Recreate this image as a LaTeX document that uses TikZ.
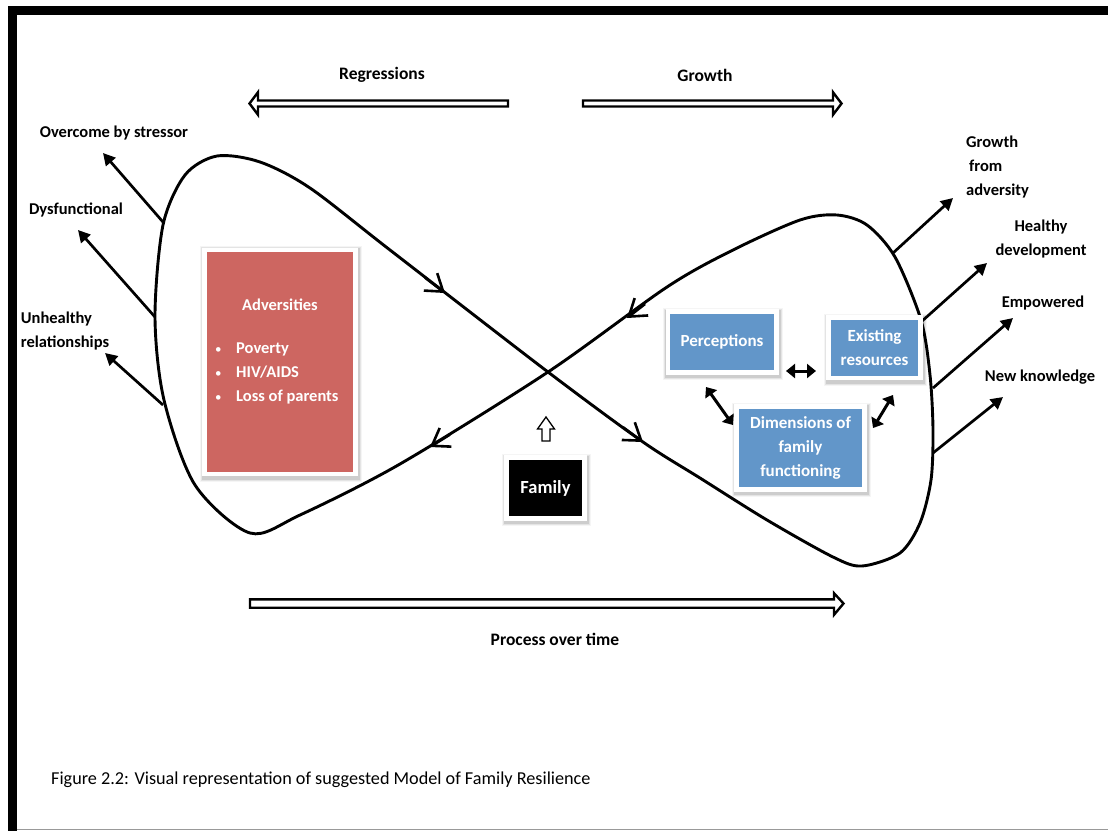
\documentclass[tikz,border=0pt]{standalone}
\usepackage{fontspec}
\setmainfont{Carlito}
\usetikzlibrary{arrows.meta,backgrounds}
\definecolor{advred}{RGB}{205,102,97}
\definecolor{boxblue}{RGB}{98,150,201}
\begin{document}
\begin{tikzpicture}[x=1pt,y=-1pt,
  lbl/.style={font=\bfseries\fontsize{16.5}{24}\selectfont, inner sep=0pt, align=left},
  toplbl/.style={font=\bfseries\fontsize{17.5}{24}\selectfont, inner sep=0pt},
  loopline/.style={line width=2.9pt, line join=round},
  barb/.style={line width=2.6pt, -{Straight Barb[length=16pt,width=22pt]}},
  outarrow/.style={line width=2.7pt, -{Triangle[length=12pt,width=12.5pt]}},
  dbl/.style={line width=3pt, {Triangle[length=9pt,width=14pt]}-{Triangle[length=9pt,width=14pt]}},
  colbox/.style={rectangle, draw=white, line width=4.5pt, inner sep=0pt, text=white,
    font=\bfseries\fontsize{17}{24}\selectfont, align=center},
  hollow/.style={draw=black, fill=white, line width=2.4pt, line join=miter},
]
\useasboundingbox (0,0) rectangle (1108,831);
% frame
\fill[black] (8,6) rectangle (1108,15);
\fill[black] (8,6) rectangle (17,831);
\draw[black!40, line width=1.5pt] (17,829.5) -- (1108,829.5);

% top arrows
\node[toplbl] (regl) at (382,75) {Regressions};
\node[toplbl] (growl) at (705,75) {Growth};
\draw[hollow] (508,100.5) -- (258,100.5) -- (258,92.2) -- (249.5,103.5) -- (258,114.8) -- (258,106.5) -- (508,106.5) -- cycle;
\draw[hollow] (583,100.5) -- (833,100.5) -- (833,92.2) -- (841.5,103.5) -- (833,114.8) -- (833,106.5) -- (583,106.5) -- cycle;

% process arrow
\draw[hollow] (250,599.3) -- (834,599.3) -- (834,593.2) -- (843.5,603.5) -- (834,614.8) -- (834,607.7) -- (250,607.7) -- cycle;
\node[toplbl] (procl) at (555,639) {Process over time};

% caption
\node[font=\fontsize{18.2}{22}\selectfont, anchor=west, inner sep=0pt] (cap) at (51,780)
  {Figure 2.2: Visual representation of suggested Model of Family Resilience};

% figure-eight loop
\draw[loopline] plot[smooth cycle, tension=0.5] coordinates {
 (548,372) (643,442) (700,478) (767,520) (833,557) (862,566) (900,553) (920,523)
 (931,480) (933,430) (930,375) (921,320) (895,257) (867,225) (837,215) (800,220)
 (733,250) (667,287) (548,372) (400,464) (300,515) (250,533) (195,485) (164,400)
 (155,317) (163,225) (185,175) (217,156) (260,162) (310,188) (390,250)};
% direction barbs on the loop
\coordinate (b1s) at (425,277.6); \coordinate (b1e) at (445,293);
\coordinate (b2s) at (645,304);   \coordinate (b2e) at (627,318);
\coordinate (b3s) at (450,434.5); \coordinate (b3e) at (430,447);
\coordinate (b4s) at (623,427.2); \coordinate (b4e) at (643,442);
\draw[barb] (b1s) -- (b1e);
\draw[barb] (b2s) -- (b2e);
\draw[barb] (b3s) -- (b3e);
\draw[barb] (b4s) -- (b4e);

% left outcomes
\node[lbl] (overc) at (114,133) {Overcome by stressor};
\node[lbl] (dysf) at (76,210) {Dysfunctional};
\node[lbl] (unh) at (65,331) {Unhealthy\\relationships};
\coordinate (o1s) at (163,222); \coordinate (o1e) at (103,153);
\coordinate (o2s) at (155,317); \coordinate (o2e) at (78,230);
\coordinate (o3s) at (163,405); \coordinate (o3e) at (105,353);
\draw[outarrow] (o1s) -- (o1e);
\draw[outarrow] (o2s) -- (o2e);
\draw[outarrow] (o3s) -- (o3e);

% right outcomes
\node[lbl, anchor=west] (gfa) at (966,167) {Growth\\\hspace*{3pt}from\\adversity};
\node[lbl, align=center] (healthy) at (1041,239) {Healthy\\development};
\node[lbl] (emp) at (1043,303) {Empowered};
\node[lbl] (newk) at (1040,377) {New knowledge};
\coordinate (r1s) at (893,253); \coordinate (r1e) at (953,198);
\coordinate (r2s) at (921,322); \coordinate (r2e) at (987,263);
\coordinate (r3s) at (933,388); \coordinate (r3e) at (1013,318);
\coordinate (r4s) at (933,453); \coordinate (r4e) at (1003,397);
\draw[outarrow] (r1s) -- (r1e);
\draw[outarrow] (r2s) -- (r2e);
\draw[outarrow] (r3s) -- (r3e);
\draw[outarrow] (r4s) -- (r4e);

% adversities box
\node[colbox, fill=advred, minimum width=151pt, minimum height=224pt] (adv) at (280,362) {};
\node[lbl, text=white] (advt) at (280,305) {Adversities};
\node[lbl, text=white, anchor=west] (advl) at (213,373)
  {\makebox[23pt][l]{\hspace{2pt}{\mdseries\fontsize{13}{24}\selectfont\textbullet}}Poverty\\
   \makebox[23pt][l]{\hspace{2pt}{\mdseries\fontsize{13}{24}\selectfont\textbullet}}HIV/AIDS\\
   \makebox[23pt][l]{\hspace{2pt}{\mdseries\fontsize{13}{24}\selectfont\textbullet}}Loss of parents};

% blue boxes
\node[colbox, fill=boxblue, minimum width=108.5pt, minimum height=61pt] (perc) at (722,342) {Perceptions};
\node[colbox, fill=boxblue, minimum width=92pt, minimum height=60.5pt] (exist) at (874.5,347.75) {Existing\\resources};
\node[colbox, fill=boxblue, minimum width=128pt, minimum height=83pt] (dims) at (800.5,448) {Dimensions of\\family\\functioning};

% family box
\node[colbox, fill=black, minimum width=78pt, minimum height=61pt, font=\bfseries\fontsize{18.5}{24}\selectfont] (fam) at (545.5,488) {Family};
\draw[draw=black, fill=white, line width=1.3pt] (546,417) -- (554.5,429) -- (550,429) -- (550,441)
  -- (542,441) -- (542,429) -- (537.5,429) -- cycle;

% soft shadows behind the boxes
\begin{scope}[on background layer]
\foreach \n in {adv,perc,exist,dims,fam}{
  \fill[black, opacity=0.10] ([shift={(-0.5,0.5)}]\n.north west) rectangle ([shift={(2.5,3.5)}]\n.south east);
  \fill[black, opacity=0.07] ([shift={(-1.5,-0.5)}]\n.north west) rectangle ([shift={(3.5,4.5)}]\n.south east);
  \fill[black, opacity=0.04] ([shift={(-2.5,-1.5)}]\n.north west) rectangle ([shift={(4.5,5.5)}]\n.south east);
}
\end{scope}

% double arrows between the blue boxes
\coordinate (pe1) at (786,371); \coordinate (pe2) at (816,371);
\coordinate (pd1) at (706,387); \coordinate (pd2) at (733,425);
\coordinate (ed1) at (893,395); \coordinate (ed2) at (873,428);
\draw[dbl] (pe1) -- (pe2);
\draw[dbl] (pd1) -- (pd2);
\draw[dbl] (ed1) -- (ed2);
\end{tikzpicture}
\end{document}
